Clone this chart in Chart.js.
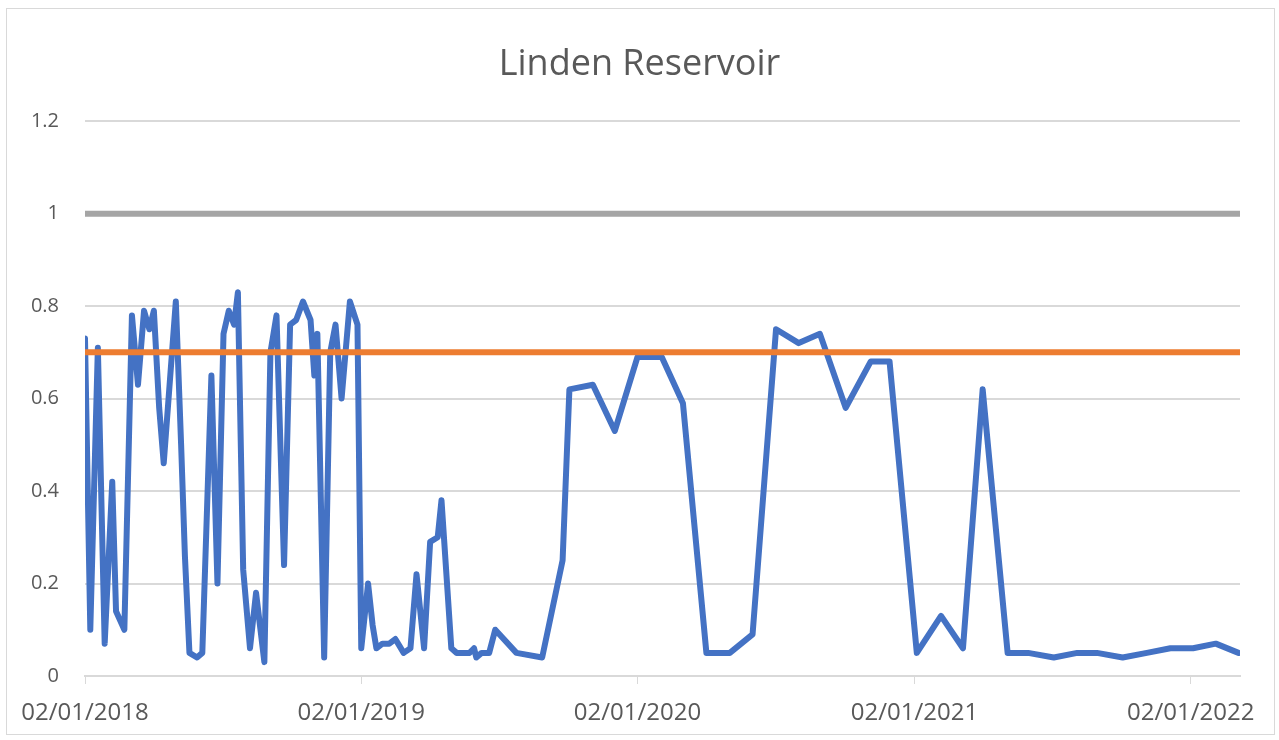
<!DOCTYPE html>
<html>
<head>
<meta charset="utf-8">
<script src="https://cdn.jsdelivr.net/npm/chart.js@4.4.0/dist/chart.umd.min.js"></script>
<style>
  html, body { margin: 0; background: #fff; }
  #wrap { width: 1279px; height: 740px; }
</style>
</head>
<body>
<div id="wrap"><canvas id="chart"></canvas></div>
<script>
// days since 02/01/2018 and measured level
const sampleDay = [
  0, 7, 17, 26, 36, 41, 52, 62, 70, 78, 85, 91, 98, 104, 120, 127, 132, 138, 148, 155,
  167, 175, 183, 190, 197, 202, 209, 218, 226, 237, 245, 253, 263, 271, 279, 288, 298, 303, 307, 316,
  324, 331, 339, 350, 360, 365, 374, 380, 385, 393, 402, 410, 421, 430, 438, 448, 456, 466, 471, 484,
  491, 508, 514, 517, 524, 534, 542, 570, 604, 631, 640, 671, 700, 730, 762, 790, 821, 852, 882, 913,
  943, 971, 1005, 1038, 1063, 1099, 1131, 1160, 1186, 1219, 1246, 1280, 1311, 1337, 1371, 1403, 1434, 1464, 1494, 1524
];
const reservoirLevel = [
  0.73, 0.10, 0.71, 0.07, 0.42, 0.14, 0.10, 0.78, 0.63, 0.79, 0.75, 0.79, 0.58, 0.46, 0.81, 0.50, 0.26, 0.05, 0.04, 0.05,
  0.65, 0.20, 0.74, 0.79, 0.76, 0.83, 0.23, 0.06, 0.18, 0.03, 0.70, 0.78, 0.24, 0.76, 0.77, 0.81, 0.77, 0.65, 0.74, 0.04,
  0.70, 0.76, 0.60, 0.81, 0.76, 0.06, 0.20, 0.11, 0.06, 0.07, 0.07, 0.08, 0.05, 0.06, 0.22, 0.06, 0.29, 0.30, 0.38, 0.06,
  0.05, 0.05, 0.06, 0.04, 0.05, 0.05, 0.10, 0.05, 0.04, 0.25, 0.62, 0.63, 0.53, 0.69, 0.69, 0.59, 0.05, 0.05, 0.09, 0.75,
  0.72, 0.74, 0.58, 0.68, 0.68, 0.05, 0.13, 0.06, 0.62, 0.05, 0.05, 0.04, 0.05, 0.05, 0.04, 0.05, 0.06, 0.06, 0.07, 0.05
];
const upperLimit = 1;
const targetLevel = 0.7;
const lastDay = 1526;

const xTickDays = [0, 365, 730, 1096, 1461];
const xTickLabels = ['02/01/2018', '02/01/2019', '02/01/2020', '02/01/2021', '02/01/2022'];
const yTickLabels = ['0', '0.2', '0.4', '0.6', '0.8', '1', '1.2'];

const textColor = '#595959';
const gridColor = '#d9d9d9';

const chartFrame = {
  id: 'chartFrame',
  beforeDraw(chart) {
    const ctx = chart.ctx;
    ctx.save();
    ctx.fillStyle = '#fff';
    ctx.fillRect(0, 0, chart.width, chart.height);
    ctx.strokeStyle = gridColor;
    ctx.lineWidth = 1;
    ctx.strokeRect(6.5, 8.5, 1268, 726);
    ctx.restore();
  },
};

const flatLine = (y) => [{ x: 0, y: y }, { x: lastDay, y: y }];

new Chart(document.getElementById('chart'), {
  type: 'line',
  data: {
    datasets: [
      {
        label: 'Target',
        data: flatLine(targetLevel),
        borderColor: '#ed7d31',
        borderWidth: 6,
        pointRadius: 0,
      },
      {
        label: 'Limit',
        data: flatLine(upperLimit),
        borderColor: '#a5a5a5',
        borderWidth: 6,
        pointRadius: 0,
      },
      {
        label: 'Linden Reservoir',
        data: sampleDay.map((d, i) => ({ x: d, y: reservoirLevel[i] })),
        borderColor: '#4472c4',
        borderWidth: 6,
        borderJoinStyle: 'round',
        borderCapStyle: 'round',
        pointRadius: 0,
        tension: 0,
      },
    ],
  },
  options: {
    responsive: true,
    maintainAspectRatio: false,
    animation: false,
    layout: { padding: 0 },
    scales: {
      x: {
        type: 'linear',
        min: 0,
        max: lastDay,
        afterBuildTicks: (scale) => {
          scale.ticks = xTickDays.map((v) => ({ value: v }));
        },
        afterFit: (scale) => { scale.height = 64; },
        grid: {
          drawOnChartArea: false,
          tickLength: 8,
          color: gridColor,
          lineWidth: 1,
        },
        border: { color: gridColor, width: 2 },
        ticks: {
          autoSkip: false,
          maxRotation: 0,
          padding: 15,
          color: textColor,
          font: { family: 'Open Sans', size: 24 },
          callback: (value, index) => xTickLabels[index],
        },
      },
      y: {
        min: 0,
        max: 1.2,
        afterFit: (scale) => { scale.width = 85; },
        grid: { color: gridColor, lineWidth: 2, drawTicks: false },
        border: { display: false },
        ticks: {
          stepSize: 0.2,
          padding: 26,
          color: textColor,
          font: { family: 'Open Sans', size: 20 },
          callback: (value, index) => yTickLabels[index],
        },
      },
      // empty right-hand axis, only reserves the margin so the title stays centred
      yRight: {
        position: 'right',
        min: 0,
        max: 1.2,
        afterFit: (scale) => { scale.width = 39; },
        grid: { display: false },
        border: { display: false },
        ticks: { display: false },
      },
    },
    plugins: {
      legend: { display: false },
      tooltip: { enabled: false },
      title: {
        display: true,
        text: 'Linden Reservoir',
        color: textColor,
        font: { family: 'Open Sans', size: 36, weight: 'normal' },
        padding: { top: 43, bottom: 35 },
      },
    },
  },
  plugins: [chartFrame],
});
</script>
</body>
</html>
